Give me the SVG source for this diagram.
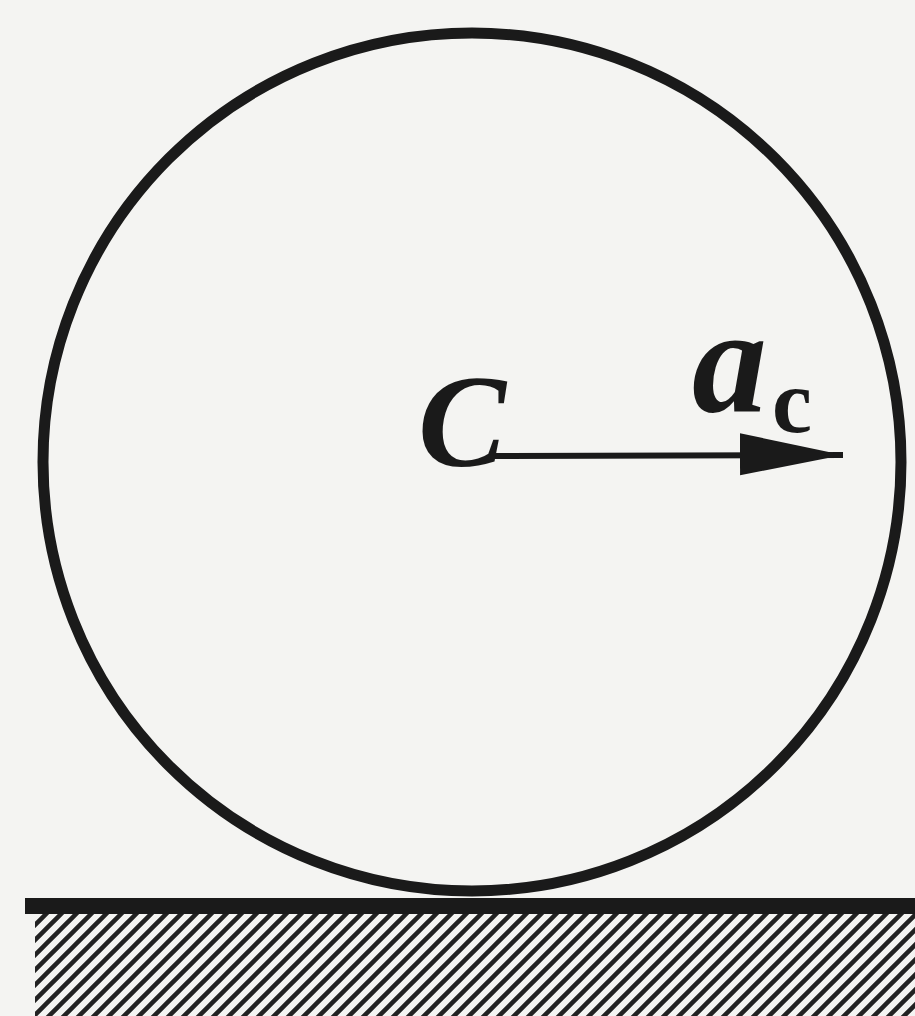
<svg xmlns="http://www.w3.org/2000/svg" width="915" height="1016" viewBox="0 0 915 1016">
<defs>
<pattern id="hatch" patternUnits="userSpaceOnUse" width="15" height="15">
<path d="M-4,4 L4,-4 M0,15 L15,0 M11,19 L19,11" stroke="#222" stroke-width="4.5"/>
</pattern>
<marker id="arr" markerUnits="userSpaceOnUse" markerWidth="110" markerHeight="50" refX="103" refY="22" orient="auto">
<path d="M0,0 L103,22 L0,42 Z" fill="#1a1a1a"/>
</marker>
<style>
.lbl{font-family:"Liberation Serif","Times New Roman",serif;font-weight:bold;fill:#1a1a1a}
</style>
</defs>
<rect width="915" height="1016" fill="#f4f4f2"/>
<g id="ground">
<rect x="35" y="914" width="880" height="102" fill="url(#hatch)"/>
<line x1="25" y1="906" x2="915" y2="906" stroke="#1a1a1a" stroke-width="16"/>
</g>
<g id="wheel">
<circle cx="472" cy="462" r="429" fill="none" stroke="#1a1a1a" stroke-width="11"/>
</g>
<g id="connectors">
<line x1="493" y1="456" x2="843" y2="455" stroke="#1a1a1a" stroke-width="6" marker-end="url(#arr)"/>
</g>
<g id="labels">
<text class="lbl" x="418" y="466" font-size="132" font-style="italic">C</text>
<text class="lbl" x="692" y="411" font-size="150" font-style="italic">a</text>
<text class="lbl" x="772" y="432" font-size="90">c</text>
</g>
</svg>
